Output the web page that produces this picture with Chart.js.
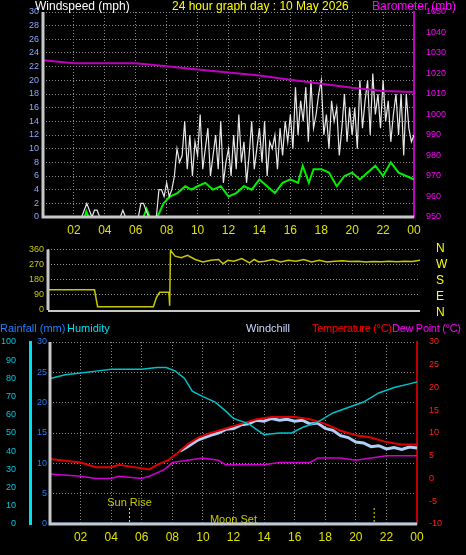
<!DOCTYPE html>
<html>
<head>
<meta charset="utf-8">
<script src="https://cdn.jsdelivr.net/npm/chart.js@4"></script>
<style>
  body { margin: 0; background: #000; width: 466px; height: 555px; overflow: hidden; position: relative; font-family: "Liberation Sans", Arial, sans-serif; }
  canvas { position: absolute; left: 0; }
  .lbl { position: absolute; font-size: 11px; white-space: nowrap; line-height: 12px; }
</style>
</head>
<body>
<canvas id="windChart" width="466" height="240" style="top:0"></canvas>
<canvas id="dirChart" width="466" height="80" style="top:240px"></canvas>
<canvas id="tempChart" width="466" height="235" style="top:320px"></canvas>

<div class="lbl" style="left:35px;top:0;color:#fff;font-size:12px">Windspeed (mph)</div>
<div class="lbl" style="left:172px;top:0;color:#ffff00;font-size:12px">24 hour graph day : 10 May 2026</div>
<div class="lbl" style="left:372px;top:0;color:#ff00ff;font-size:12px">Barometer (mb)</div>
<div class="lbl" style="left:436px;top:240px;color:#ffff00;line-height:16px;font-size:12px">N<br>W<br>S<br>E<br>N</div>
<div class="lbl" style="left:0;top:322px;color:#1e7fff">Rainfall (mm)</div>
<div class="lbl" style="left:67px;top:322px;color:#00e0f0">Humidity</div>
<div class="lbl" style="left:246px;top:322px;color:#c8d8ff">Windchill</div>
<div class="lbl" style="left:312px;top:322px;color:#ff0000;letter-spacing:-0.3px">Temperature (°C)</div>
<div class="lbl" style="left:392px;top:322px;color:#ff00ff;letter-spacing:-0.3px">Dew Point (°C)</div>

<script>
// ---- data ----
const hourLabels = ['00', '02', '04', '06', '08', '10', '12', '14', '16', '18', '20', '22', '00'];

const baroHours = [0, 2, 4, 6, 8, 10, 12, 14, 16, 18, 20, 22, 24];
const baroValues = [1026.5, 1025, 1025, 1025, 1023.5, 1022, 1020.5, 1019, 1017, 1015, 1013, 1011.5, 1011];

const avgHours = [0, 2.7, 2.8, 2.95, 6.5, 6.7, 6.9, 7.4, 7.8, 8.2, 8.7, 9.2, 9.6, 10, 10.5, 11, 11.5, 12, 12.5, 13, 13.5, 14, 14.5, 15, 15.5, 16, 16.5, 16.8, 17.2, 17.5, 18, 18.5, 19, 19.5, 20, 20.5, 21, 21.5, 22, 22.5, 23, 23.5, 24];
const avgValues = [0, 0, 0.8, 0, 0, 1.2, 0, 0, 2, 3, 3.5, 4.5, 4, 4.5, 5, 4, 4.5, 3, 3.5, 4.5, 4, 5.5, 4.5, 3.5, 5, 5.5, 5, 7.5, 5, 7, 7, 6.5, 4.5, 6, 6.5, 5.5, 6.5, 7.5, 6, 8, 6.5, 6, 5.5];

// gusts every 10 minutes from 00:00
const gustValues = [
  0, 0, 0, 0, 0, 0,
  0, 0, 0, 0, 0, 0,
  0, 0, 0, 0, 1, 2,
  1, 0, 1, 1, 0, 0,
  0, 0, 0, 0, 0, 0,
  0, 1, 0, 0, 0, 0,
  0, 0, 2, 2, 1, 0,
  0, 0, 0, 4, 4, 3,
  5, 3, 4, 6, 10, 8,
  9, 14, 7, 12, 6, 11,
  9, 15, 7, 10, 13, 6,
  9, 12, 7, 14, 5, 8,
  10, 6, 12, 7, 15, 8,
  11, 5, 9, 14, 7, 10,
  13, 8, 14, 6, 11, 10,
  12, 7, 13, 9, 14, 11,
  15, 10, 19, 12, 17, 14,
  19, 11, 20, 13, 15, 18,
  20, 12, 15, 10, 17, 14,
  16, 9, 13, 18, 11, 16,
  12, 16, 10, 20, 13, 17,
  20, 12, 21, 15, 18, 13,
  20, 14, 17, 11, 15, 18,
  12, 18, 9, 18, 13, 11,
  12
];

const dirHours = [0, 3.0, 3.2, 6.8, 7.0, 7.2, 7.8, 7.85, 7.9, 8.2, 8.6, 9.0, 9.5, 10, 10.5, 11, 11.3, 11.6, 12, 12.5, 13, 13.3, 13.6, 14, 14.5, 15, 15.5, 16, 16.5, 17, 17.5, 18, 18.5, 19, 19.5, 20, 20.5, 21, 21.5, 22, 22.5, 23, 23.5, 24];
const dirValues = [120, 120, 20, 20, 75, 105, 105, 25, 355, 320, 310, 325, 300, 285, 295, 300, 275, 295, 290, 305, 280, 300, 285, 290, 300, 285, 295, 290, 300, 285, 295, 285, 290, 293, 288, 290, 285, 288, 286, 290, 287, 290, 288, 295];

const humHours = [0, 1, 2, 3, 4, 6, 7, 7.6, 8.2, 8.8, 9.3, 10, 10.8, 11.5, 12, 13, 13.5, 14, 15, 15.8, 16.5, 17.5, 18.5, 19.5, 20.5, 21.5, 22.5, 23.5, 24];
const humValues = [80, 82, 83, 84, 85, 85, 86, 86, 84, 80, 73, 70, 67, 62, 58, 55, 52, 49, 50, 50, 53, 56, 61, 64, 67, 72, 75, 77, 78];

const tempHours = [0, 2, 3, 4, 4.5, 5.5, 6.5, 7, 7.7, 8.3, 9, 9.7, 10.5, 11.5, 12.5, 13.5, 14.5, 16, 17, 18, 19, 20, 21, 22, 23, 24];
const tempValues = [4.3, 3.5, 2.5, 2.5, 3, 2.5, 2, 3, 4, 5.5, 7.5, 9, 10, 11, 12, 13, 13.5, 13.5, 13, 12, 10.5, 9.5, 9, 8, 7.5, 7.5];
const chillHours = [8.5, 9, 9.7, 10.5, 11, 11.5, 12, 12.5, 13, 13.5, 14, 14.5, 15, 15.5, 16, 16.5, 17, 17.5, 18, 18.5, 19, 19.5, 20, 20.5, 21, 21.5, 22, 22.5, 23, 23.5, 24];
const chillValues = [6, 7, 8.5, 9.5, 10, 10.8, 11, 11.8, 12, 12.8, 12.6, 13.2, 12.8, 13, 12.6, 12.8, 12, 12.2, 11, 10.6, 9.4, 9, 8, 7.8, 7, 7.2, 6.5, 6.8, 6.4, 6.9, 6.7];
const dewHours = [0, 2, 3, 4, 4.5, 6, 6.5, 7.5, 8, 9, 10, 11, 11.5, 13, 14, 15, 17, 17.5, 19, 20, 21, 22, 23.5, 24];
const dewValues = [1, 0.5, 0, 0, 0.5, 0, 0.5, 2, 3.5, 4, 4.5, 4, 3, 3, 3, 3.5, 3.5, 4.5, 4.5, 4, 4.5, 5, 5, 5];
const rainHours = [0, 24];
const rainValues = [0, 0];

const sunRiseHour = 5.2;
const moonSetHour = 21.2;

// ---- helpers ----
const pts = (xs, ys) => xs.map((x, i) => ({ x: x, y: ys[i] }));
const gustPts = gustValues.map((v, i) => ({ x: i / 6, y: v }));
const FONT = { family: 'Liberation Sans', size: 9 };
const GRID = { color: '#8a8a8a', lineWidth: 1, drawTicks: false };
const DOTTED = { display: false, dash: [1, 2] };
const fixW = w => s => { s.width = w; };
const fixH = h => s => { s.height = h; };

function xScale(height, showLabels) {
  return {
    type: 'linear', min: 0, max: 24,
    afterFit: fixH(height),
    grid: GRID,
    border: DOTTED,
    ticks: {
      display: showLabels, stepSize: 2, color: '#e0e000', padding: 6,
      font: { family: 'Liberation Sans', size: 12 },
      callback: v => (v === 0 ? '' : hourLabels[v / 2])
    }
  };
}

const line = (data, color, width, axis) => ({
  data: data, borderColor: color, borderWidth: width, pointRadius: 0,
  tension: 0, yAxisID: axis
});

const baseOpts = {
  responsive: false, animation: false,
  plugins: { legend: { display: false }, tooltip: { enabled: false } }
};

// grey frame on left and bottom of each plot
const framePlugin = {
  id: 'frame',
  afterDraw(chart) {
    const { ctx, chartArea: a } = chart;
    ctx.save();
    ctx.strokeStyle = '#c8c8c8';
    ctx.lineWidth = 3;
    ctx.beginPath();
    ctx.moveTo(a.left, a.top);
    ctx.lineTo(a.left, a.bottom);
    if (chart.canvas.id !== 'dirChart') ctx.lineTo(a.right, a.bottom);
    ctx.stroke();
    if (chart.canvas.id === 'dirChart') {
      ctx.lineWidth = 2;
      ctx.beginPath();
      ctx.moveTo(a.left, a.bottom + 1);
      ctx.lineTo(a.right, a.bottom + 1);
      ctx.stroke();
    }
    ctx.restore();
  }
};

// markers for sun rise / moon set
const markerPlugin = {
  id: 'markers',
  afterDatasetsDraw(chart) {
    const { ctx, scales: { x }, chartArea } = chart;
    ctx.save();
    ctx.strokeStyle = '#e0e000';
    ctx.setLineDash([2, 2]);
    [sunRiseHour, moonSetHour].forEach(h => {
      const px = x.getPixelForValue(h);
      ctx.beginPath();
      ctx.moveTo(px, chartArea.bottom - 16);
      ctx.lineTo(px, chartArea.bottom);
      ctx.stroke();
    });
    ctx.setLineDash([]);
    ctx.fillStyle = '#c8c800';
    ctx.font = '11px "Liberation Sans"';
    ctx.textAlign = 'center';
    ctx.fillText('Sun Rise', x.getPixelForValue(sunRiseHour), chartArea.bottom - 18);
    ctx.fillText('Moon Set', x.getPixelForValue(12), chartArea.bottom - 1);
    ctx.restore();
  }
};

// ---- wind / barometer ----
new Chart(document.getElementById('windChart'), {
  type: 'line',
  data: {
    datasets: [
      line(pts(baroHours, baroValues), '#c000c0', 2, 'yb'),
      line(gustPts, '#e8e8e8', 1.2, 'y'),
      line(pts(avgHours, avgValues), '#00f000', 2, 'y')
    ]
  },
  plugins: [framePlugin],
  options: {
    ...baseOpts,
    layout: { padding: { top: 12 } },
    scales: {
      x: xScale(23, true),
      y: {
        position: 'left', min: 0, max: 30, afterFit: fixW(43),
        grid: GRID, border: DOTTED,
        ticks: { stepSize: 2, autoSkip: false, color: '#8aa8ff', font: FONT, padding: 4 }
      },
      yb: {
        position: 'right', min: 950, max: 1050, afterFit: fixW(52),
        grid: { display: false }, border: { display: true, color: '#c000c0', width: 2 },
        ticks: { stepSize: 10, autoSkip: false, color: '#ff00ff', font: FONT, padding: 4, callback: v => String(v) }
      }
    }
  }
});

// ---- wind direction ----
new Chart(document.getElementById('dirChart'), {
  type: 'line',
  data: { datasets: [line(pts(dirHours, dirValues), '#c8c800', 1.5, 'y')] },
  plugins: [framePlugin],
  options: {
    ...baseOpts,
    layout: { padding: { top: 6, right: 46 } },
    scales: {
      x: { ...xScale(10, false), grid: { display: false } },
      y: {
        position: 'left', min: 0, max: 360, afterFit: fixW(48),
        grid: { ...GRID, color: '#9a9a9a' }, border: DOTTED,
        ticks: { stepSize: 90, autoSkip: false, color: '#c8c800', font: FONT, padding: 4 }
      }
    }
  }
});

// ---- temperature / humidity ----
new Chart(document.getElementById('tempChart'), {
  type: 'line',
  data: {
    datasets: [
      line(pts(rainHours, rainValues), '#1060c0', 3, 'yr'),
      line(pts(humHours, humValues), '#00c0c8', 1.5, 'yh'),
      line(pts(tempHours, tempValues), '#e00000', 2, 'yt'),
      line(pts(chillHours, chillValues), '#b0d0f8', 3, 'yt'),
      line(pts(dewHours, dewValues), '#d000d0', 1.5, 'yt')
    ]
  },
  plugins: [markerPlugin, framePlugin],
  options: {
    ...baseOpts,
    layout: { padding: { top: 22 } },
    scales: {
      x: xScale(31, true),
      yr: {
        position: 'left', min: 0, max: 30, afterFit: fixW(20),
        grid: GRID, border: DOTTED,
        ticks: { stepSize: 5, autoSkip: false, color: '#1e7fff', font: FONT, padding: 3 }
      },
      yh: {
        position: 'left', min: 0, max: 100, afterFit: fixW(30),
        grid: { display: false }, border: { display: true, color: '#00e0f0', width: 3 },
        ticks: { stepSize: 10, autoSkip: false, color: '#00c8e0', font: FONT, padding: 6 }
      },
      yt: {
        position: 'right', min: -10, max: 30, afterFit: fixW(49),
        grid: { display: false }, border: { display: true, color: '#c00000', width: 2 },
        ticks: { stepSize: 5, autoSkip: false, color: '#ff2020', font: FONT, padding: 4 }
      }
    }
  }
});
</script>
</body>
</html>
